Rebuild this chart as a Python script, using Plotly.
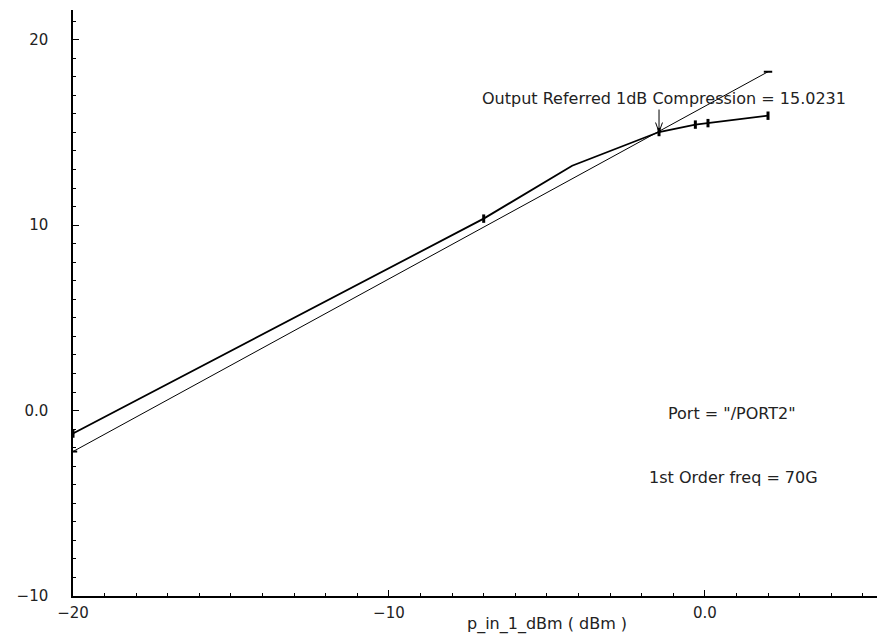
import plotly.graph_objects as go

# Output power curve (thick) : p_in (dBm) -> p_out (dBm)
pin_curve = [-20, -7, -4.2, -2.5, -1.45, -0.3, 0.1, 2]
pout_curve = [-1.24, 10.35, 13.2, 14.3, 15.02, 15.42, 15.5, 15.9]
# marker points on the curve
pin_marks = [-20, -7, -1.45, -0.3, 0.1, 2]
pout_marks = [-1.24, 10.35, 15.02, 15.42, 15.5, 15.9]

# extrapolated linear line (thin)
pin_line = [-20, 2]
pout_line = [-2.21, 18.27]

# compression point
comp_x = -1.45
comp_y = 15.02

x_tickvals = [-20, -10, 0]
x_ticktext = ["−20", "−10", "0.0"]
y_tickvals = [-10, 0, 10, 20]
y_ticktext = ["−10", "0.0", "10", "20"]

FONT = "DejaVu Sans"
INK = "#222222"

fig = go.Figure()
fig.add_trace(go.Scatter(x=pin_line, y=pout_line, mode="lines+markers",
                         line=dict(color="black", width=1),
                         marker=dict(symbol="line-ew-open", size=6, color="black",
                                     line=dict(color="black", width=2)),
                         showlegend=False, hoverinfo="skip"))
fig.add_trace(go.Scatter(x=pin_curve, y=pout_curve, mode="lines",
                         line=dict(color="black", width=1.8),
                         showlegend=False, hoverinfo="skip"))
fig.add_trace(go.Scatter(x=pin_marks, y=pout_marks, mode="markers",
                         marker=dict(symbol="line-ns-open", size=6, color="black",
                                     line=dict(color="black", width=3)),
                         showlegend=False, hoverinfo="skip"))

axis_common = dict(showgrid=False, zeroline=False, showline=True, linecolor="black", linewidth=1.5,
                   ticks="inside", ticklen=6, tickwidth=1.2, tickcolor="black",
                   tickfont=dict(family=FONT, size=15, color=INK),
                   minor=dict(dtick=1, ticks="inside", ticklen=3, tickwidth=1, tickcolor="black"))

fig.update_xaxes(range=[-20, 5.45], tickvals=x_tickvals, ticktext=x_ticktext,
                 ticklabelstandoff=2, **axis_common)
fig.update_yaxes(range=[-10, 21.6], tickvals=y_tickvals, ticktext=y_ticktext,
                 ticklabelstandoff=20, **axis_common)

ann_font = dict(family=FONT, size=16, color=INK)
# arrow stem and open V head
fig.add_annotation(x=comp_x, y=comp_y, ax=0, ay=-24, text="", showarrow=True, arrowhead=0,
                   arrowwidth=1, arrowcolor="black", standoff=2)
fig.add_annotation(x=comp_x, y=comp_y, ax=-4, ay=-11, text="", showarrow=True, arrowhead=0,
                   arrowwidth=1, arrowcolor="black", standoff=2)
fig.add_annotation(x=comp_x, y=comp_y, ax=4, ay=-11, text="", showarrow=True, arrowhead=0,
                   arrowwidth=1, arrowcolor="black", standoff=2)
fig.add_annotation(x=comp_x, y=comp_y, xshift=5, yshift=34, showarrow=False,
                   xanchor="center", yanchor="middle",
                   text="Output Referred 1dB Compression = 15.0231", font=ann_font)

fig.add_annotation(xref="paper", yref="paper", x=(732 - 73) / 804, y=(596 - 413) / 586,
                   xanchor="center", yanchor="middle",
                   text='Port = "/PORT2"', showarrow=False, font=ann_font)
fig.add_annotation(xref="paper", yref="paper", x=(733 - 73) / 804, y=(596 - 477) / 586,
                   xanchor="center", yanchor="middle",
                   text="1st Order freq = 70G", showarrow=False, font=ann_font)
fig.add_annotation(xref="paper", yref="paper", x=(547 - 73) / 804, y=-(624 - 596) / 586,
                   xanchor="center", yanchor="middle",
                   text="p_in_1_dBm ( dBm )", showarrow=False, font=ann_font)

fig.update_layout(width=882, height=634, margin=dict(l=73, r=5, t=10, b=38),
                  paper_bgcolor="white", plot_bgcolor="white")

fig.write_html("out.html")
